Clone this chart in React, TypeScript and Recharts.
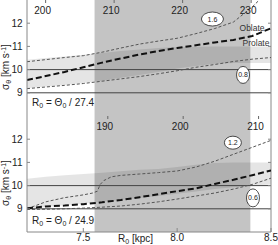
import React from 'react';
import {
  ComposedChart,
  Area,
  Line,
  XAxis,
  YAxis,
  ReferenceArea,
  ReferenceLine,
  ReferenceDot,
} from 'recharts';

// R0 grid [kpc] shared by most curves
const rGrid = [7.2, 7.3, 7.4, 7.5, 7.6, 7.7, 7.8, 7.9, 8.0, 8.1, 8.2, 8.3, 8.4, 8.5];

// upper panel: R0 = Theta0 / 27.4
const topHigh = [10.34, 10.43, 10.52, 10.6, 10.75, 10.93, 11.1, 11.23, 11.35, 11.55, 11.77, 12.05, 12.7, 13.5];
const topMid = [9.55, 9.72, 9.9, 10.1, 10.3, 10.48, 10.65, 10.8, 10.93, 11.05, 11.17, 11.28, 11.45, 11.78];
const topLow = [9.18, 9.25, 9.32, 9.4, 9.5, 9.6, 9.7, 9.82, 9.95, 10.1, 10.22, 10.35, 10.45, 10.52];
const topBandHi = [10.42, 10.5, 10.57, 10.64, 10.72, 10.8, 10.87, 10.93, 10.97, 10.99, 11.0, 11.0, 11.0, 11.0];
const topBandLo = [9.2, 9.27, 9.34, 9.42, 9.52, 9.65, 9.77, 9.9, 10.05, 10.15, 10.25, 10.28, 10.28, 10.28];

// lower panel: R0 = Theta0 / 24.9
const botHighR = [7.2, 7.3, 7.4, 7.5, 7.55, 7.575, 7.59, 7.61, 7.65, 7.7, 7.8, 7.9, 8.0, 8.1, 8.2, 8.3, 8.4, 8.5];
const botHigh = [9.0, 9.3, 9.48, 9.6, 9.68, 9.76, 10.05, 10.22, 10.38, 10.44, 10.5, 10.56, 10.63, 10.8, 11.05, 11.35, 11.65, 11.95];
const botMid = [9.02, 9.1, 9.14, 9.2, 9.28, 9.38, 9.5, 9.63, 9.76, 9.88, 10.07, 10.25, 10.45, 10.65];
const botLow = [8.97, 8.98, 9.0, 9.03, 9.07, 9.12, 9.2, 9.3, 9.42, 9.55, 9.68, 9.85, 10.05, 10.32];
const botBandHi = [10.3, 10.38, 10.45, 10.5, 10.55, 10.62, 10.68, 10.72, 10.8, 10.9, 10.97, 11.0, 11.0, 11.0];
const botBandLo = [9.0, 9.08, 9.15, 9.22, 9.3, 9.38, 9.47, 9.55, 9.65, 9.75, 9.85, 9.93, 10.0, 10.05];

const observed = [9, 10];
const allowedR = [7.56, 8.39];
const sigmaTicks = [9, 10, 11, 12];
const rTicks = [7.5, 8.0, 8.5];

const FONT = '"Liberation Sans", Arial, sans-serif';

const rows = (xs: number[], ys: number[]) => xs.map((r, i) => ({ r, v: ys[i] }));
const bandRows = (lo: number[], hi: number[]) => rGrid.map((r, i) => ({ r, band: [lo[i], hi[i]] }));

const ellipseTag = (text: string, rx: number, ry: number) => (p: any) => (
  <g>
    <ellipse cx={p.cx} cy={p.cy} rx={rx} ry={ry} fill="#fff" stroke="#222" strokeWidth={0.8} />
    <text x={p.cx} y={p.cy + 2.5} textAnchor="middle" fontSize={7} fill="#222">{text}</text>
  </g>
);

const plainTag = (text: string) => (p: any) => (
  <text x={p.cx} y={p.cy + 3} textAnchor="middle" fontSize={8.5} fill="#333">{text}</text>
);

const ratioTag = (ratio: number) => (p: any) => (
  <text x={p.cx} y={p.cy} fontSize={10} fill="#222">
    R<tspan fontSize={7} dy={2}>0</tspan>
    <tspan dy={-2}>{' = Θ'}</tspan>
    <tspan fontSize={7} dy={2}>0</tspan>
    <tspan dy={-2}>{` / ${ratio}`}</tspan>
  </text>
);

// Theta0 tick on the top edge: short inward mark plus its label below it
const thetaTick = (theta: number) => (p: any) => (
  <g>
    <line x1={p.cx} x2={p.cx} y1={p.cy} y2={p.cy + 3} stroke="#666" />
    <text x={p.cx - 3} y={p.cy + 14} textAnchor="middle" fontSize={10} fill="#222">{theta}</text>
  </g>
);

// inward tick on the right frame
const rightTick = (p: any) => <line x1={p.cx - 3} x2={p.cx} y1={p.cy} y2={p.cy} stroke="#888" />;

const sigmaLabel = (props: any) => {
  const vb = props.viewBox;
  const cx = 9;
  const cy = vb.y + vb.height / 2 + 9;
  return (
    <text x={cx} y={cy} transform={`rotate(-90 ${cx} ${cy})`} textAnchor="middle" fontSize={10} fill="#222">
      σ<tspan fontSize={7} dy={2}>θ</tspan>
      <tspan dy={-2}>{' [km s'}</tspan>
      <tspan fontSize={7} dy={-3}>-1</tspan>
      <tspan dy={3}>]</tspan>
    </text>
  );
};

const rLabel = (props: any) => {
  const vb = props.viewBox;
  return (
    <text x={vb.x + 91} y={vb.y + 10} fontSize={10} fill="#222">
      R<tspan fontSize={7} dy={2}>0</tspan>
      <tspan dy={-2}>{' [kpc]'}</tspan>
    </text>
  );
};

interface PanelProps {
  ratio: number;
  thetaTicks: number[];
  high: { r: number; v: number }[];
  mid: { r: number; v: number }[];
  low: { r: number; v: number }[];
  band: { r: number; band: number[] }[];
  highTag: [string, number, number, number, number];
  lowTag: [string, number, number, number, number];
  ratioY: number;
  withRAxis?: boolean;
  shapeNames?: boolean;
}

const Panel = ({ ratio, thetaTicks, high, mid, low, band, highTag, lowTag, ratioY, withRAxis, shapeNames }: PanelProps) => (
  <ComposedChart width={278} height={withRAxis ? 129 : 116} margin={{ top: 0, right: 7, bottom: 0, left: 8 }}>
    <XAxis
      dataKey="r"
      type="number"
      domain={[7.2, 8.5]}
      allowDataOverflow
      ticks={rTicks}
      tickFormatter={(v: number) => v.toFixed(1)}
      height={withRAxis ? 13 : 0}
      tick={withRAxis ? { fill: '#222', fontSize: 10 } : false}
      tickSize={-4}
      tickMargin={6}
      stroke="#888"
      label={withRAxis ? rLabel : undefined}
    />
    <YAxis
      type="number"
      domain={[8, 13]}
      allowDataOverflow
      ticks={sigmaTicks}
      width={19}
      tickSize={-3}
      tickMargin={7.5}
      tick={{ fill: '#222', fontSize: 10 }}
      stroke="#888"
      label={sigmaLabel}
    />
    <ReferenceArea x1={allowedR[0]} x2={allowedR[1]} y1={8} y2={13} fill="#c4c4c4" fillOpacity={1} stroke="none" />
    <Area data={band} dataKey="band" stroke="none" fill="#000" fillOpacity={0.1} isAnimationActive={false} />
    {observed.map((s) => (
      <ReferenceLine key={s} y={s} stroke="#444" strokeWidth={1} />
    ))}
    <ReferenceLine x={8.5} stroke="#888" />
    {sigmaTicks.map((s) => (
      <ReferenceDot key={`rt${s}`} x={8.5} y={s} ifOverflow="visible" shape={rightTick} />
    ))}
    <Line data={high} dataKey="v" stroke="#555" strokeWidth={1} strokeDasharray="3 2" dot={false} isAnimationActive={false} />
    <Line data={low} dataKey="v" stroke="#555" strokeWidth={1} strokeDasharray="3 2" dot={false} isAnimationActive={false} />
    <Line data={mid} dataKey="v" stroke="#111" strokeWidth={2} strokeDasharray="6 3" dot={false} isAnimationActive={false} />
    {thetaTicks.map((t) => (
      <ReferenceDot key={`th${t}`} x={t / ratio} y={13} ifOverflow="visible" shape={thetaTick(t)} />
    ))}
    <ReferenceDot x={highTag[3]} y={highTag[4]} shape={ellipseTag(highTag[0], highTag[1], highTag[2])} />
    <ReferenceDot x={lowTag[3]} y={lowTag[4]} shape={ellipseTag(lowTag[0], lowTag[1], lowTag[2])} />
    {shapeNames && <ReferenceDot x={8.399} y={11.79} shape={plainTag('Oblate')} />}
    {shapeNames && <ReferenceDot x={8.42} y={11.15} shape={plainTag('Prolate')} />}
    <ReferenceDot x={7.227} y={ratioY} shape={ratioTag(ratio)} />
  </ComposedChart>
);

export default function App() {
  return (
    <div style={{ position: 'absolute', left: 0, top: 0, width: 278, height: 245, fontFamily: FONT, background: '#fff' }}>
      <Panel
        ratio={27.4}
        thetaTicks={[200, 210, 220, 230]}
        high={rows(rGrid, topHigh)}
        mid={rows(rGrid, topMid)}
        low={rows(rGrid, topLow)}
        band={bandRows(topBandLo, topBandHi)}
        highTag={['1.6', 11, 7, 8.188, 12.18]}
        lowTag={['0.8', 6.5, 8.5, 8.351, 9.77]}
        ratioY={8.43}
        shapeNames
      />
      <Panel
        ratio={24.9}
        thetaTicks={[190, 200, 210]}
        high={rows(botHighR, botHigh)}
        mid={rows(rGrid, botMid)}
        low={rows(rGrid, botLow)}
        band={bandRows(botBandLo, botBandHi)}
        highTag={['1.2', 8.5, 6.5, 8.297, 11.85]}
        lowTag={['0.6', 6.5, 9, 8.404, 9.47]}
        ratioY={8.34}
        withRAxis
      />
    </div>
  );
}
